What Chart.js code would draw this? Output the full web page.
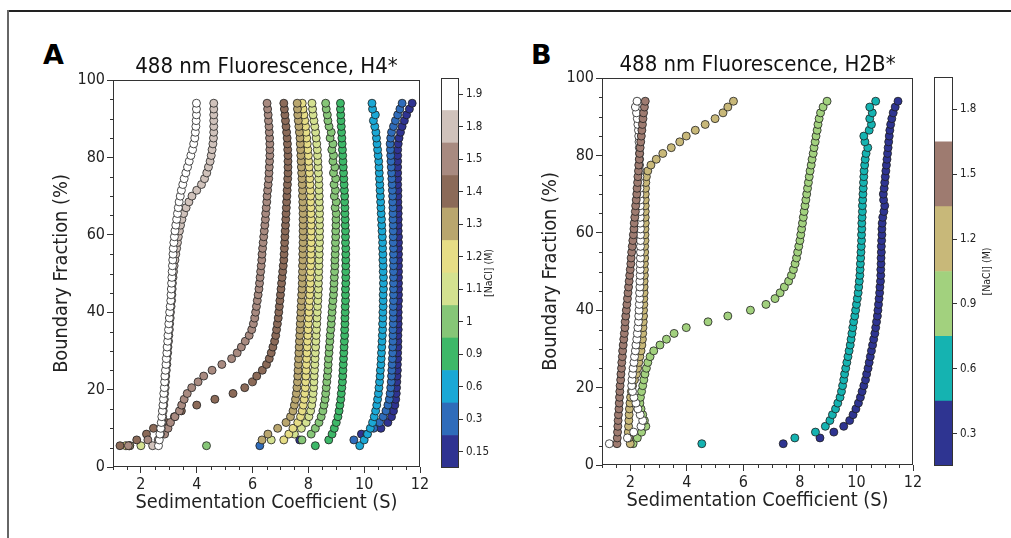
<!DOCTYPE html>
<html>
<head>
<meta charset="utf-8">
<script src="https://cdn.jsdelivr.net/npm/chart.js@4.4.0/dist/chart.umd.min.js"></script>
<style>
  body { margin: 0; background: #fff; }
  #wrap { position: relative; width: 1011px; height: 538px; overflow: hidden; background: #fff; }
  #wrap canvas { position: absolute; left: 0; top: 0; }
  .frame-top { position: absolute; left: 7px; top: 10px; width: 1004px; border-top: 2px solid #222; }
  .frame-left { position: absolute; left: 7px; top: 10px; height: 528px; border-left: 2px solid #666; }
  .panel { position: absolute; font: bold 27px 'DejaVu Sans', sans-serif; color: #000; }
</style>
</head>
<body>
<div id="wrap">
  <div class="frame-top"></div>
  <div class="frame-left"></div>
  <div class="panel" style="left:43px;top:39px">A</div>
  <div class="panel" style="left:531px;top:39px">B</div>
  <canvas id="chartA" width="1011" height="538"></canvas>
  <canvas id="chartB" width="1011" height="538"></canvas>
  <canvas id="cbarA" width="1011" height="538"></canvas>
  <canvas id="cbarB" width="1011" height="538"></canvas>
</div>
<script>
// Boundary fractions (%) shared by every series
const fractions = [
  5.5, 7, 8.5, 10, 11.5, 13, 14.5, 16, 17.5, 19,
  20.5, 22, 23.5, 25, 26.5, 28, 29.5, 31, 32.5, 34,
  35.5, 37, 38.5, 40, 41.5, 43, 44.5, 46, 47.5, 49,
  50.5, 52, 53.5, 55, 56.5, 58, 59.5, 61, 62.5, 64,
  65.5, 67, 68.5, 70, 71.5, 73, 74.5, 76, 77.5, 79,
  80.5, 82, 83.5, 85, 86.5, 88, 89.5, 91, 92.5, 94
];

const xTickValues = [2, 4, 6, 8, 10, 12];
const yTickValues = [0, 20, 40, 60, 80, 100];

// Panel A: H4*, sedimentation coefficient (S) per [NaCl]
const h4_190 = [
  2.63, 2.66, 2.68, 2.71, 2.73, 2.75, 2.77, 2.79, 2.81, 2.82,
  2.84, 2.85, 2.86, 2.88, 2.90, 2.91, 2.93, 2.94, 2.96, 2.97,
  2.99, 3.00, 3.02, 3.03, 3.05, 3.07, 3.08, 3.09, 3.10, 3.11,
  3.12, 3.13, 3.14, 3.15, 3.16, 3.18, 3.20, 3.22, 3.25, 3.28,
  3.31, 3.34, 3.37, 3.41, 3.45, 3.50, 3.55, 3.61, 3.67, 3.73,
  3.79, 3.85, 3.89, 3.93, 3.95, 3.97, 3.98, 3.99, 3.99, 3.99
];
const h4_180 = [
  2.42, 2.62, 2.70, 2.73, 2.76, 2.78, 2.80, 2.82, 2.84, 2.85,
  2.87, 2.88, 2.89, 2.91, 2.93, 2.94, 2.96, 2.97, 2.99, 3.00,
  3.02, 3.03, 3.05, 3.06, 3.08, 3.10, 3.11, 3.12, 3.13, 3.15,
  3.17, 3.19, 3.22, 3.25, 3.28, 3.31, 3.34, 3.38, 3.42, 3.47,
  3.53, 3.62, 3.72, 3.83, 4.00, 4.17, 4.28, 4.36, 4.42, 4.48,
  4.52, 4.55, 4.58, 4.60, 4.61, 4.61, 4.61, 4.61, 4.61, 4.61
];
const h4_150 = [
  1.55, 2.25, 2.85, 2.97, 3.06, 3.22, 3.38, 3.46, 3.55, 3.66,
  3.82, 4.05, 4.25, 4.55, 4.90, 5.25, 5.45, 5.60, 5.74, 5.88,
  5.97, 6.03, 6.08, 6.11, 6.14, 6.17, 6.20, 6.23, 6.25, 6.27,
  6.29, 6.31, 6.33, 6.34, 6.36, 6.38, 6.40, 6.42, 6.44, 6.46,
  6.47, 6.49, 6.51, 6.52, 6.54, 6.56, 6.58, 6.59, 6.60, 6.61,
  6.62, 6.62, 6.62, 6.61, 6.60, 6.59, 6.57, 6.56, 6.54, 6.52
];
const h4_140 = [
  1.25, 1.85, 2.20, 2.45, 2.90, 3.20, 3.45, 4.00, 4.65, 5.30,
  5.72, 6.00, 6.15, 6.35, 6.50, 6.60, 6.67, 6.73, 6.79, 6.83,
  6.86, 6.89, 6.92, 6.94, 6.96, 6.98, 7.00, 7.02, 7.04, 7.06,
  7.08, 7.10, 7.12, 7.13, 7.14, 7.15, 7.16, 7.17, 7.18, 7.19,
  7.20, 7.21, 7.22, 7.23, 7.24, 7.25, 7.26, 7.27, 7.27, 7.27,
  7.27, 7.26, 7.25, 7.24, 7.22, 7.20, 7.18, 7.16, 7.14, 7.12
];
const h4_130 = [
  1.60, 6.34, 6.55, 6.90, 7.20, 7.36, 7.45, 7.50, 7.54, 7.57,
  7.59, 7.61, 7.62, 7.63, 7.64, 7.65, 7.66, 7.67, 7.68, 7.69,
  7.70, 7.71, 7.72, 7.73, 7.74, 7.75, 7.76, 7.77, 7.78, 7.78,
  7.79, 7.79, 7.80, 7.80, 7.80, 7.81, 7.81, 7.81, 7.81, 7.81,
  7.81, 7.80, 7.80, 7.79, 7.79, 7.78, 7.77, 7.76, 7.75, 7.74,
  7.73, 7.72, 7.71, 7.70, 7.68, 7.66, 7.64, 7.62, 7.61, 7.60
];
const h4_120 = [
  1.47, 7.12, 7.30, 7.45, 7.62, 7.72, 7.78, 7.82, 7.85, 7.87,
  7.89, 7.90, 7.91, 7.92, 7.93, 7.94, 7.95, 7.96, 7.97, 7.98,
  7.99, 8.00, 8.01, 8.02, 8.03, 8.04, 8.05, 8.06, 8.07, 8.07,
  8.08, 8.08, 8.09, 8.09, 8.09, 8.10, 8.10, 8.10, 8.10, 8.10,
  8.09, 8.09, 8.08, 8.08, 8.07, 8.06, 8.05, 8.04, 8.03, 8.01,
  8.00, 7.98, 7.96, 7.94, 7.92, 7.90, 7.87, 7.84, 7.81, 7.78
];
const h4_110 = [
  2.00, 6.67, 7.50, 7.75, 7.92, 8.02, 8.08, 8.12, 8.15, 8.17,
  8.19, 8.20, 8.21, 8.22, 8.23, 8.24, 8.25, 8.26, 8.27, 8.28,
  8.29, 8.30, 8.31, 8.32, 8.33, 8.34, 8.35, 8.36, 8.36, 8.37,
  8.37, 8.38, 8.38, 8.39, 8.39, 8.40, 8.40, 8.40, 8.40, 8.40,
  8.40, 8.40, 8.39, 8.39, 8.38, 8.38, 8.37, 8.36, 8.35, 8.34,
  8.33, 8.32, 8.30, 8.28, 8.26, 8.23, 8.20, 8.17, 8.15, 8.13
];
const h4_100 = [
  4.35, 7.77, 8.10, 8.25, 8.38, 8.46, 8.52, 8.56, 8.60, 8.62,
  8.64, 8.66, 8.68, 8.70, 8.71, 8.72, 8.74, 8.75, 8.77, 8.78,
  8.80, 8.82, 8.83, 8.85, 8.86, 8.88, 8.90, 8.91, 8.92, 8.93,
  8.94, 8.95, 8.95, 8.96, 8.97, 8.97, 8.98, 8.98, 8.99, 8.99,
  9.00, 8.96, 9.00, 8.93, 8.97, 8.92, 8.98, 8.90, 8.95, 8.88,
  8.90, 8.84, 8.88, 8.78, 8.82, 8.74, 8.70, 8.68, 8.64, 8.62
];
const h4_090 = [
  8.25, 8.73, 8.85, 8.93, 9.00, 9.06, 9.10, 9.13, 9.16, 9.18,
  9.20, 9.22, 9.23, 9.24, 9.25, 9.26, 9.27, 9.28, 9.29, 9.30,
  9.30, 9.31, 9.31, 9.32, 9.32, 9.33, 9.33, 9.33, 9.34, 9.34,
  9.34, 9.34, 9.34, 9.34, 9.34, 9.33, 9.33, 9.33, 9.32, 9.32,
  9.31, 9.31, 9.30, 9.30, 9.29, 9.28, 9.27, 9.26, 9.25, 9.24,
  9.23, 9.22, 9.21, 9.20, 9.19, 9.18, 9.17, 9.16, 9.15, 9.15
];
const h4_060 = [
  9.84, 10.00, 10.12, 10.22, 10.30, 10.36, 10.41, 10.45, 10.48, 10.51,
  10.53, 10.55, 10.57, 10.58, 10.60, 10.61, 10.62, 10.63, 10.64, 10.65,
  10.66, 10.66, 10.67, 10.67, 10.68, 10.68, 10.68, 10.69, 10.69, 10.69,
  10.68, 10.68, 10.67, 10.67, 10.66, 10.66, 10.65, 10.64, 10.63, 10.62,
  10.61, 10.60, 10.59, 10.58, 10.57, 10.56, 10.55, 10.54, 10.53, 10.52,
  10.50, 10.48, 10.46, 10.44, 10.42, 10.38, 10.33, 10.40, 10.30, 10.28
];
const h4_030 = [
  6.26, 9.63, 10.10, 10.34, 10.55, 10.68, 10.78, 10.85, 10.90, 10.93,
  10.95, 10.97, 10.98, 10.99, 11.00, 11.01, 11.02, 11.02, 11.03, 11.03,
  11.03, 11.04, 11.04, 11.04, 11.04, 11.05, 11.05, 11.05, 11.05, 11.05,
  11.05, 11.05, 11.05, 11.05, 11.05, 11.04, 11.04, 11.04, 11.04, 11.03,
  11.03, 11.03, 11.02, 11.02, 11.01, 11.00, 10.99, 10.98, 10.97, 10.96,
  10.95, 10.94, 10.93, 10.95, 10.98, 11.05, 11.12, 11.20, 11.28, 11.36
];
const h4_015 = [
  1.60, 7.69, 9.90, 10.60, 10.85, 10.98, 11.05, 11.10, 11.13, 11.15,
  11.16, 11.17, 11.18, 11.19, 11.19, 11.20, 11.20, 11.21, 11.21, 11.21,
  11.22, 11.22, 11.22, 11.22, 11.22, 11.23, 11.23, 11.23, 11.23, 11.23,
  11.23, 11.23, 11.23, 11.23, 11.23, 11.23, 11.23, 11.22, 11.22, 11.22,
  11.22, 11.22, 11.21, 11.21, 11.21, 11.20, 11.20, 11.20, 11.20, 11.20,
  11.20, 11.20, 11.22, 11.25, 11.30, 11.36, 11.44, 11.52, 11.62, 11.72
];

// Panel B: H2B*
const h2b_180 = [
  1.26, 1.90, 2.12, 2.38, 2.44, 2.35, 2.27, 2.20, 2.13, 2.08,
  2.05, 2.06, 2.08, 2.10, 2.13, 2.15, 2.18, 2.20, 2.23, 2.25,
  2.27, 2.29, 2.30, 2.31, 2.32, 2.33, 2.33, 2.34, 2.34, 2.35,
  2.35, 2.35, 2.36, 2.36, 2.36, 2.36, 2.36, 2.36, 2.35, 2.35,
  2.35, 2.35, 2.35, 2.34, 2.34, 2.34, 2.34, 2.34, 2.33, 2.33,
  2.33, 2.32, 2.31, 2.30, 2.29, 2.27, 2.25, 2.22, 2.18, 2.24
];
const h2b_150 = [
  1.53, 1.54, 1.55, 1.56, 1.57, 1.58, 1.60, 1.61, 1.62, 1.63,
  1.64, 1.66, 1.67, 1.69, 1.70, 1.72, 1.73, 1.75, 1.77, 1.79,
  1.81, 1.82, 1.84, 1.86, 1.88, 1.90, 1.92, 1.94, 1.96, 1.98,
  2.00, 2.02, 2.03, 2.05, 2.07, 2.09, 2.11, 2.13, 2.14, 2.16,
  2.18, 2.19, 2.21, 2.23, 2.24, 2.26, 2.27, 2.29, 2.30, 2.32,
  2.33, 2.35, 2.37, 2.39, 2.41, 2.43, 2.45, 2.47, 2.50, 2.53
];
const h2b_120 = [
  2.00, 1.95, 1.93, 1.94, 1.95, 1.96, 1.97, 1.99, 2.01, 2.04,
  2.08, 2.15, 2.22, 2.26, 2.30, 2.34, 2.38, 2.41, 2.43, 2.44,
  2.45, 2.46, 2.47, 2.47, 2.48, 2.48, 2.49, 2.49, 2.49, 2.50,
  2.50, 2.50, 2.51, 2.51, 2.51, 2.52, 2.52, 2.52, 2.53, 2.53,
  2.53, 2.53, 2.53, 2.53, 2.54, 2.55, 2.57, 2.62, 2.73, 2.92,
  3.15, 3.45, 3.75, 3.98, 4.30, 4.65, 5.00, 5.28, 5.45, 5.65
];
const h2b_090 = [
  2.10, 2.25, 2.40, 2.55, 2.50, 2.44, 2.38, 2.34, 2.36, 2.40,
  2.44, 2.48, 2.52, 2.57, 2.62, 2.70, 2.83, 3.05, 3.28, 3.55,
  3.98, 4.75, 5.45, 6.25, 6.80, 7.12, 7.30, 7.45, 7.60, 7.70,
  7.77, 7.83, 7.88, 7.92, 7.96, 8.00, 8.03, 8.06, 8.09, 8.12,
  8.15, 8.18, 8.21, 8.24, 8.27, 8.30, 8.33, 8.36, 8.40, 8.43,
  8.47, 8.50, 8.54, 8.57, 8.61, 8.64, 8.68, 8.73, 8.82, 8.96
];
const h2b_060 = [
  4.53, 7.82, 8.55, 8.90, 9.06, 9.15, 9.26, 9.34, 9.42, 9.47,
  9.51, 9.55, 9.58, 9.62, 9.66, 9.70, 9.74, 9.78, 9.81, 9.84,
  9.87, 9.90, 9.94, 9.97, 10.00, 10.03, 10.06, 10.08, 10.10, 10.12,
  10.13, 10.14, 10.15, 10.16, 10.17, 10.18, 10.18, 10.19, 10.19, 10.20,
  10.21, 10.21, 10.22, 10.23, 10.24, 10.25, 10.26, 10.27, 10.29, 10.31,
  10.34, 10.40, 10.30, 10.26, 10.45, 10.53, 10.47, 10.56, 10.47, 10.68
];
const h2b_030 = [
  7.41, 8.71, 9.20, 9.55, 9.76, 9.88, 9.98, 10.07, 10.14, 10.20,
  10.26, 10.32, 10.36, 10.41, 10.45, 10.49, 10.53, 10.57, 10.61, 10.65,
  10.68, 10.71, 10.74, 10.76, 10.78, 10.80, 10.82, 10.83, 10.85, 10.86,
  10.86, 10.87, 10.87, 10.88, 10.88, 10.89, 10.90, 10.90, 10.91, 10.93,
  10.97, 11.00, 10.96, 10.95, 10.98, 11.00, 11.02, 11.04, 11.06, 11.08,
  11.10, 11.12, 11.14, 11.16, 11.18, 11.21, 11.25, 11.30, 11.37, 11.47
];

// Colorbar ticks
const cbarLabelsA = ['0.15', '0.3', '0.6', '0.9', '1', '1.1', '1.2', '1.3', '1.4', '1.5', '1.8', '1.9'];
const cbarTicksB = [0.3, 0.6, 0.9, 1.2, 1.5, 1.8];
const cbarEdgesB = [0.15, 0.45, 0.75, 1.05, 1.35, 1.65, 1.95];

// terrain-like colours, low salt -> high salt
const colorsA = ['#2f3391', '#2f6cba', '#1ba8d5', '#3db868', '#86c677', '#d4e190',
                 '#e6dd86', '#b9a66e', '#8b6a58', '#a88a80', '#d0c2bb', '#ffffff'];
const colorsB = ['#2e3491', '#15b3b1', '#a2d17e', '#c8b879', '#9e7b70', '#ffffff'];

const FONT = "'DejaVu Sans Condensed', 'DejaVu Sans', sans-serif";
Chart.defaults.font.family = FONT;
Chart.defaults.color = '#222';

// plot frame + minor ticks
const axesBox = {
  id: 'axesBox',
  afterDraw(chart) {
    const { ctx, chartArea: a, scales } = chart;
    ctx.save();
    ctx.strokeStyle = '#333';
    ctx.lineWidth = 1;
    ctx.strokeRect(Math.round(a.left) + 0.5, Math.round(a.top) + 0.5,
                   Math.round(a.right - a.left) - 1, Math.round(a.bottom - a.top) - 1);
    ctx.beginPath();
    for (let v = 1; v <= 12; v += 0.5) {
      if (v % 2 === 0) continue;
      const px = Math.round(scales.x.getPixelForValue(v)) + 0.5;
      ctx.moveTo(px, a.bottom);
      ctx.lineTo(px, a.bottom + 3);
    }
    for (let v = 0; v <= 100; v += 5) {
      if (v % 20 === 0) continue;
      const py = Math.round(scales.y.getPixelForValue(v)) + 0.5;
      ctx.moveTo(a.left, py);
      ctx.lineTo(a.left - 3, py);
    }
    ctx.stroke();
    ctx.restore();
  }
};

// colorbar outline + rotated label
const cbarFrame = {
  id: 'cbarFrame',
  afterDraw(chart, args, opts) {
    const { ctx, chartArea: a } = chart;
    ctx.save();
    ctx.strokeStyle = '#333';
    ctx.lineWidth = 1;
    ctx.strokeRect(Math.round(a.left) + 0.5, Math.round(a.top) + 0.5,
                   Math.round(a.right - a.left) - 1, Math.round(a.bottom - a.top) - 1);
    ctx.translate(opts.labelX, (a.top + a.bottom) / 2);
    ctx.rotate(-Math.PI / 2);
    ctx.font = '10.5px ' + FONT;
    ctx.fillStyle = '#222';
    ctx.textAlign = 'center';
    ctx.textBaseline = 'middle';
    ctx.fillText('[NaCl] (M)', 0, 0);
    ctx.restore();
  }
};

function makeSeries(xs, color) {
  return {
    data: xs.map((x, i) => ({ x: x, y: fractions[i] })),
    backgroundColor: color,
    borderColor: '#1e1e1e',
    borderWidth: 0.8,
    pointRadius: 4,
    pointHoverRadius: 4
  };
}

function scatterPanel(id, title, datasets, pad) {
  new Chart(document.getElementById(id), {
    type: 'scatter',
    data: { datasets: datasets },
    options: {
      responsive: false,
      animation: false,
      events: [],
      layout: { padding: pad },
      plugins: {
        legend: { display: false },
        tooltip: { enabled: false },
        title: {
          display: true, text: title, fullSize: false, color: '#111',
          font: { size: 22, weight: 'normal', lineHeight: 1.2 }, padding: { top: 0, bottom: 0 }
        }
      },
      scales: {
        x: {
          type: 'linear', min: 1, max: 12,
          afterBuildTicks: s => { s.ticks = xTickValues.map(v => ({ value: v })); },
          afterFit: s => { s.height = 51; },
          ticks: { font: { size: 16 }, padding: 2, color: '#222' },
          grid: { drawOnChartArea: false, tickLength: 6, tickColor: '#333' },
          border: { display: false },
          title: { display: true, text: 'Sedimentation Coefficient (S)', font: { size: 19.8 },
                   color: '#222', padding: { top: 0, bottom: 3 } }
        },
        y: {
          type: 'linear', min: 0, max: 100,
          afterBuildTicks: s => { s.ticks = yTickValues.map(v => ({ value: v })); },
          afterFit: s => { s.width = 65; },
          ticks: { font: { size: 16 }, padding: 2, color: '#222' },
          grid: { drawOnChartArea: false, tickLength: 6, tickColor: '#333' },
          border: { display: false },
          title: { display: true, text: 'Boundary Fraction (%)', font: { size: 19.8 },
                   color: '#222', padding: { top: 2, bottom: 0 } }
        }
      }
    },
    plugins: [axesBox]
  });
}

function colorbar(id, colors, ranges, yOpts, pad, labelX) {
  new Chart(document.getElementById(id), {
    type: 'bar',
    data: {
      labels: [''],
      datasets: colors.map((c, i) => ({
        data: [ranges[i]], backgroundColor: c, borderWidth: 0,
        grouped: false, barPercentage: 1, categoryPercentage: 1
      }))
    },
    options: {
      responsive: false,
      animation: false,
      events: [],
      layout: { padding: pad },
      plugins: { legend: { display: false }, tooltip: { enabled: false }, cbarFrame: { labelX: labelX } },
      scales: {
        x: { display: false },
        y: Object.assign({
          position: 'right',
          afterFit: s => { s.width = 40; },
          grid: { drawOnChartArea: false, tickLength: 4, tickColor: '#333' },
          border: { display: false }
        }, yOpts)
      }
    },
    plugins: [cbarFrame]
  });
}

// Panel A
const seriesA = [h4_190, h4_180, h4_150, h4_140, h4_130, h4_120, h4_110, h4_100, h4_090, h4_060, h4_030, h4_015];
const dsA = seriesA.map((xs, i) => makeSeries(xs, colorsA[colorsA.length - 1 - i]));
scatterPanel('chartA', '488 nm Fluorescence, H4*', dsA,
             { left: 48, right: 591, top: 53.6, bottom: 20 });

// Panel B
const seriesB = [h2b_150, h2b_180, h2b_120, h2b_090, h2b_060, h2b_030];
const colorsBOrder = [colorsB[4], colorsB[5], colorsB[3], colorsB[2], colorsB[1], colorsB[0]];
const dsB = seriesB.map((xs, i) => makeSeries(xs, colorsBOrder[i]));
scatterPanel('chartB', '488 nm Fluorescence, H2B*', dsB,
             { left: 537, right: 98, top: 51.6, bottom: 22 });

// Colorbars
colorbar('cbarA', colorsA, colorsA.map((c, i) => [i, i + 1]), {
  min: 0, max: cbarLabelsA.length,
  afterBuildTicks: s => { s.ticks = cbarLabelsA.map((l, i) => ({ value: i + 0.5 })); },
  ticks: { font: { size: 11.5 }, padding: 3, color: '#222', callback: (v, i) => cbarLabelsA[i] }
}, { left: 441, right: 512, top: 78, bottom: 70 }, 489);

colorbar('cbarB', colorsB, colorsB.map((c, i) => [cbarEdgesB[i], cbarEdgesB[i + 1]]), {
  min: cbarEdgesB[0], max: cbarEdgesB[cbarEdgesB.length - 1],
  afterBuildTicks: s => { s.ticks = cbarTicksB.map(v => ({ value: v })); },
  ticks: { font: { size: 11.5 }, padding: 3, color: '#222', callback: v => v.toFixed(1) }
}, { left: 934, right: 18, top: 77, bottom: 72 }, 987);
</script>
</body>
</html>
